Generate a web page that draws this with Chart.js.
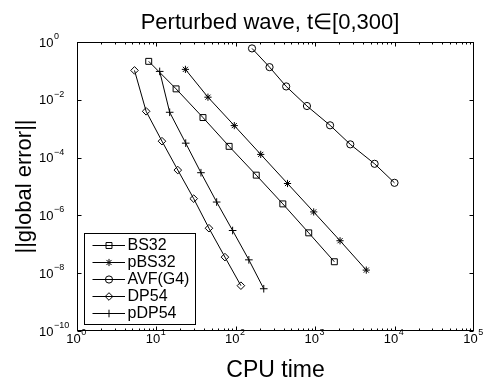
<!DOCTYPE html>
<html lang="en">
<head>
<meta charset="UTF-8">
<title>Perturbed wave</title>
<style>
  body { margin: 0; background: #ffffff; }
  #chart { display: block; }
</style>
</head>
<body>
<canvas id="chart" width="489" height="380"></canvas>
<script src="https://cdn.jsdelivr.net/npm/chart.js"></script>
<script>
// values (CPU time vs global error)
const seriesNames = ['BS32', 'pBS32', 'AVF(G4)', 'DP54', 'pDP54'];

const cpuBS32 = [8.0, 17.7, 38.6, 82.4, 181, 391, 829, 1742];
const errBS32 = [0.214, 0.0239, 2.43e-3, 2.45e-4, 2.47e-5, 2.5e-6, 2.49e-7, 2.49e-8];

const cpuPBS32 = [23.2, 44.6, 95.7, 206, 448, 957, 2055, 4400];
const errPBS32 = [0.113, 0.0123, 1.28e-3, 1.29e-4, 1.27e-5, 1.32e-6, 1.33e-7, 1.28e-8];

const cpuAVF = [160, 266, 431, 787, 1539, 2767, 5600, 9970];
const errAVF = [0.60, 0.135, 0.029, 6.1e-3, 1.31e-3, 2.87e-4, 6.1e-5, 1.34e-5];

const cpuDP54 = [5.3, 7.42, 11.75, 18.6, 29.5, 45.9, 73, 116];
const errDP54 = [0.104, 4.0e-3, 3.7e-4, 3.7e-5, 3.8e-6, 3.6e-7, 3.6e-8, 3.7e-9];

const cpuPDP54 = [11.0, 14.7, 23.4, 36.4, 57.4, 91.2, 146, 225];
const errPDP54 = [0.096, 3.7e-3, 3.16e-4, 3.0e-5, 2.9e-6, 3.0e-7, 2.9e-8, 2.9e-9];

// tick labels are powers of ten
const xTickExps = [0, 1, 2, 3, 4, 5];
const yTickExps = [0, -2, -4, -6, -8, -10];

const FONT = '"Liberation Sans", Arial, Helvetica, sans-serif';

const markers = [
  { style: 'rect', radius: 4.2 },
  { style: 'star', radius: 3.6 },
  { style: 'circle', radius: 3.6 },
  { style: 'rectRot', radius: 3.8 },
  { style: 'cross', radius: 3.8 }
];

function pts(xs, ys) {
  return xs.map((x, i) => ({ x: x, y: ys[i] }));
}

const allData = [
  pts(cpuBS32, errBS32),
  pts(cpuPBS32, errPBS32),
  pts(cpuAVF, errAVF),
  pts(cpuDP54, errDP54),
  pts(cpuPDP54, errPDP54)
];

const datasets = allData.map((d, i) => ({
  label: seriesNames[i],
  data: d,
  showLine: true,
  borderColor: '#000',
  borderWidth: 1,
  tension: 0,
  pointStyle: markers[i].style,
  pointRadius: markers[i].radius,
  pointHoverRadius: markers[i].radius,
  pointBorderColor: '#000',
  pointBackgroundColor: 'rgba(0,0,0,0)',
  pointBorderWidth: 1
}));

function sup(ctx, x, y, exp, mode) {
  // draws 10^exp; 'center' centres the whole label on x, 'left' starts the base at x
  const base = '10';
  const ex = String(exp).replace('-', '\u2212');
  ctx.font = '13px ' + FONT;
  const wb = ctx.measureText(base).width;
  ctx.font = '9px ' + FONT;
  const we = ctx.measureText(ex).width;
  const x0 = mode === 'center' ? x - (wb + we) / 2 : x;
  ctx.textAlign = 'left';
  ctx.textBaseline = 'middle';
  ctx.font = '13px ' + FONT;
  ctx.fillText(base, x0, y);
  ctx.font = '9px ' + FONT;
  ctx.fillText(ex, x0 + wb + 0.5, y - 6.5);
}

const figurePlugin = {
  id: 'figure',
  afterDraw(chart) {
    const ctx = chart.ctx;
    const a = chart.chartArea;
    const xs = chart.scales.x;
    const ys = chart.scales.y;
    const L = Math.round(a.left) + 0.5, R = Math.round(a.right) - 0.5;
    const T = Math.round(a.top) + 0.5, B = Math.round(a.bottom) - 0.5;

    ctx.save();
    ctx.strokeStyle = '#000';
    ctx.fillStyle = '#000';
    ctx.lineWidth = 1;
    ctx.strokeRect(L, T, R - L, B - T);

    // x ticks, major + minor, top and bottom, pointing in
    ctx.beginPath();
    for (let e = 0; e < 5; e++) {
      for (let m = 1; m < 10; m++) {
        const px = Math.round(xs.getPixelForValue(m * Math.pow(10, e))) + 0.5;
        const len = m === 1 ? 4 : 2;
        ctx.moveTo(px, B); ctx.lineTo(px, B - len);
        ctx.moveTo(px, T); ctx.lineTo(px, T + len);
      }
    }
    yTickExps.forEach(e => {
      const py = Math.round(ys.getPixelForValue(Math.pow(10, e))) + 0.5;
      ctx.moveTo(L, py); ctx.lineTo(L + 4, py);
      ctx.moveTo(R, py); ctx.lineTo(R - 4, py);
    });
    ctx.stroke();

    // tick labels
    xTickExps.forEach(e => {
      sup(ctx, xs.getPixelForValue(Math.pow(10, e)) - 1, 339.5, e, 'center');
    });
    yTickExps.forEach(e => {
      sup(ctx, 39, ys.getPixelForValue(Math.pow(10, e)) + 1, e, 'left');
    });

    // title and axis titles
    ctx.textAlign = 'center';
    ctx.textBaseline = 'alphabetic';
    ctx.font = '22px ' + FONT;
    ctx.fillText('Perturbed wave, t\u2208[0,300]', 270, 29);
    ctx.font = '23px ' + FONT;
    ctx.fillText('CPU time', (a.left + a.right) / 2, 377);
    ctx.save();
    ctx.translate(30.5, (a.top + a.bottom) / 2);
    ctx.rotate(-Math.PI / 2);
    ctx.font = '22px ' + FONT;
    ctx.fillText('||global error||', 0, 0);
    ctx.restore();

    // legend box in the lower left corner
    ctx.fillStyle = '#fff';
    ctx.fillRect(84.5, 233.5, 111, 91);
    ctx.strokeRect(84.5, 233.5, 111, 91);
    seriesNames.forEach((name, i) => {
      const y = 245 + i * 17;
      ctx.strokeStyle = '#000';
      ctx.beginPath();
      ctx.moveTo(92.5, y + 0.5); ctx.lineTo(125, y + 0.5);
      ctx.stroke();
      ctx.fillStyle = 'rgba(0,0,0,0)';
      Chart.helpers.drawPoint(ctx, {
        pointStyle: markers[i].style,
        radius: markers[i].radius,
        borderWidth: 1,
        rotation: 0
      }, 109, y + 0.5);
      ctx.fillStyle = '#000';
      ctx.font = '16px ' + FONT;
      ctx.textAlign = 'left';
      ctx.textBaseline = 'middle';
      ctx.fillText(name, 127.5, y + 1);
    });
    ctx.restore();
  }
};

new Chart(document.getElementById('chart').getContext('2d'), {
  type: 'scatter',
  data: { datasets: datasets },
  options: {
    responsive: false,
    devicePixelRatio: 1,
    animation: false,
    events: [],
    layout: { padding: { left: 77, right: 15, top: 42, bottom: 49 } },
    plugins: { legend: { display: false }, title: { display: false }, tooltip: { enabled: false } },
    scales: {
      x: { type: 'logarithmic', min: 1, max: 1e5, display: false },
      y: { type: 'logarithmic', min: 1e-10, max: 1, display: false }
    }
  },
  plugins: [figurePlugin]
});
</script>
</body>
</html>
